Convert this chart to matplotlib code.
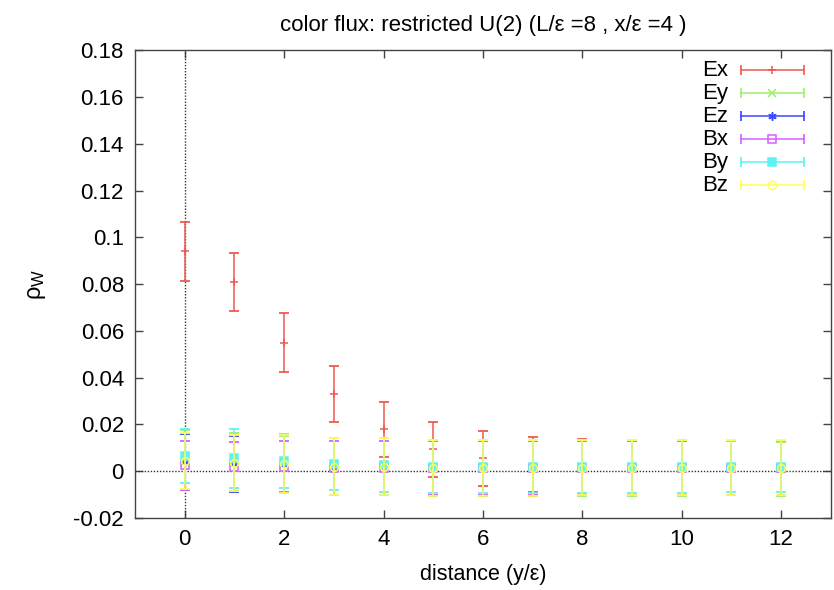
import numpy as np
import matplotlib.pyplot as plt

plt.rcParams['font.family'] = ['Liberation Sans', 'DejaVu Sans']
plt.rcParams['mathtext.fontset'] = 'custom'
plt.rcParams['mathtext.rm'] = 'Liberation Sans'
plt.rcParams['mathtext.it'] = 'Liberation Sans'

dist = [0, 1, 2, 3, 4, 5, 6, 7, 8, 9, 10, 11, 12]

Ex = [0.094, 0.081, 0.055, 0.033, 0.018, 0.0094, 0.0056, 0.003, 0.002, 0.0015, 0.0015, 0.0015, 0.0015]
Ex_err = [0.0125, 0.0125, 0.0125, 0.012, 0.0118, 0.0118, 0.0118, 0.0118, 0.0118, 0.0118, 0.0118, 0.0115, 0.0115]
Ey = [0.005, 0.004, 0.003, 0.002, 0.002, 0.0015, 0.0015, 0.0015, 0.0015, 0.0015, 0.0015, 0.0015, 0.001]
Ey_err = [0.0125, 0.0125, 0.012, 0.012, 0.012, 0.012, 0.012, 0.012, 0.012, 0.012, 0.012, 0.0115, 0.0115]
Ez = [0.004, 0.003, 0.003, 0.002, 0.002, 0.0015, 0.0015, 0.0015, 0.0015, 0.0015, 0.0015, 0.0015, 0.0015]
Ez_err = [0.012, 0.012, 0.0125, 0.012, 0.012, 0.012, 0.012, 0.012, 0.0118, 0.0118, 0.0118, 0.0115, 0.0115]
Bx = [0.0025, 0.002, 0.002, 0.0015, 0.0015, 0.0015, 0.0015, 0.0015, 0.0015, 0.0015, 0.0015, 0.0015, 0.0015]
Bx_err = [0.0105, 0.0105, 0.011, 0.0115, 0.0115, 0.0115, 0.0115, 0.0115, 0.0115, 0.0115, 0.0115, 0.0115, 0.0115]
By = [0.0065, 0.0055, 0.0045, 0.003, 0.0025, 0.002, 0.002, 0.002, 0.002, 0.002, 0.002, 0.002, 0.002]
By_err = [0.0115, 0.0125, 0.0115, 0.011, 0.0115, 0.0115, 0.0115, 0.0115, 0.0115, 0.0115, 0.0115, 0.011, 0.011]
Bz = [0.0045, 0.0035, 0.003, 0.002, 0.002, 0.0015, 0.0015, 0.0015, 0.0015, 0.0015, 0.0015, 0.0015, 0.0015]
Bz_err = [0.012, 0.012, 0.0125, 0.012, 0.012, 0.012, 0.012, 0.012, 0.0118, 0.0118, 0.0118, 0.0118, 0.0118]

series = [
    ('Ex', Ex, Ex_err, '#ee5a50', '+', 'none'),
    ('Ey', Ey, Ey_err, '#9cf06a', 'x', 'none'),
    ('Ez', Ez, Ez_err, '#3c46ff', (6, 2, 0), 'none'),
    ('Bx', Bx, Bx_err, '#d660ff', 's', 'none'),
    ('By', By, By_err, '#5ef2f2', 's', 'full'),
    ('Bz', Bz, Bz_err, '#ffff55', 'o', 'none'),
]

fig = plt.figure(figsize=(8.34, 5.9), dpi=100)
ax = fig.add_axes([0.162, 0.122, 0.834, 0.793])

ax.axvline(0, color='#333333', linestyle=(0, (1, 1.2)), linewidth=1)
ax.axhline(0, color='#333333', linestyle=(0, (1, 1.2)), linewidth=1)

for name, vals, errs, col, mk, fill in series:
    mfc = col if fill == 'full' else 'none'
    ax.errorbar(dist, vals, yerr=errs, fmt='none', ecolor=col, elinewidth=1.1,
                capsize=3.5, capthick=1.3)
    ax.plot(dist, vals, linestyle='none', marker=mk, color=col, markersize=5.5,
            markerfacecolor=mfc, markeredgewidth=1.1)

# gnuplot style key
for i, (name, vals, errs, col, mk, fill) in enumerate(series):
    ty = (518 - 70 - 23 * i) / 468
    x0 = (741 - 135) / 696
    x1 = (804 - 135) / 696
    xm = (x0 + x1) / 2
    mfc = col if fill == 'full' else 'none'
    ax.text((728 - 135) / 696, ty, name, transform=ax.transAxes, ha='right',
            va='center', fontsize=16)
    ax.plot([x0, x1], [ty, ty], transform=ax.transAxes, color=col, linewidth=1.1)
    ax.plot([x0, x1], [ty, ty], transform=ax.transAxes, color=col, linestyle='none',
            marker='|', markersize=7, markeredgewidth=1.2)
    ax.plot([xm], [ty], transform=ax.transAxes, color=col, linestyle='none', marker=mk,
            markersize=6, markerfacecolor=mfc, markeredgewidth=1.1)

ax.set_xlim(-1, 13)
ax.set_ylim(-0.02, 0.18)
ax.set_xticks(np.arange(0, 13, 2))
ax.set_yticks(np.arange(-0.02, 0.181, 0.02))
ax.set_yticklabels(['-0.02', '0', '0.02', '0.04', '0.06', '0.08', '0.1',
                    '0.12', '0.14', '0.16', '0.18'])
ax.tick_params(direction='in', length=6, width=1, top=True, right=True,
               labelsize=16, color='#444444', pad=8)
for sp in ax.spines.values():
    sp.set_color('#444444')
    sp.set_linewidth(1)

ax.set_xlabel('distance (y/ε)', fontsize=15.5, labelpad=10)
ax.set_ylabel(r'$\rho_{\mathrm{W}}$', fontsize=17, labelpad=18)
ax.set_title('color flux: restricted U(2) (L/ε =8 , x/ε =4 )', fontsize=16, pad=14)

plt.savefig('out.png')
